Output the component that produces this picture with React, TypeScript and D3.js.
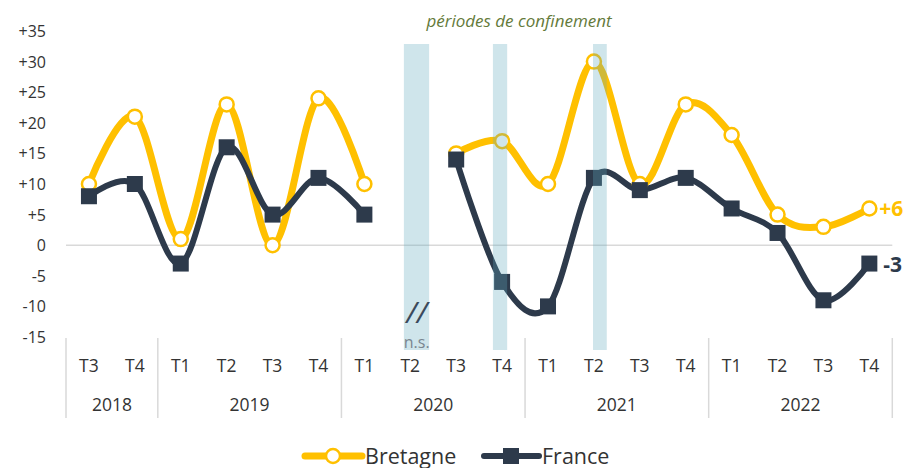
import React from "react";
import * as d3 from "d3";

const years = ["2018", "2019", "2020", "2021", "2022"];
const quarters = ["T3", "T4", "T1", "T2", "T3", "T4", "T1", "T2", "T3", "T4", "T1", "T2", "T3", "T4", "T1", "T2", "T3", "T4"];
const yearOf = ["2018", "2018", "2019", "2019", "2019", "2019", "2020", "2020", "2020", "2020", "2021", "2021", "2021", "2021", "2022", "2022", "2022", "2022"];
const bretagne: (number | null)[] = [10, 21, 1, 23, 0, 24, 10, null, 15, 17, 10, 30, 10, 23, 18, 5, 3, 6];
const france: (number | null)[] = [8, 10, -3, 16, 5, 11, 5, null, 14, -6, -10, 11, 9, 11, 6, 2, -9, -3];
const yTicks = [35, 30, 25, 20, 15, 10, 5, 0, -5, -10, -15];
// confinement periods, in quarter-index units
const confinements: [number, number][] = [
  [7.36, 7.91],
  [9.3, 9.61],
  [11.48, 11.78],
];

const W = 908;
const H = 468;
const YELLOW = "#FFC000";
const NAVY = "#2D3A4B";
const FONT = "'Open Sans', Lato, sans-serif";
const TXT = "#333";

export default function App() {
  const x0 = 66;
  const x1 = 892.3;
  const step = (x1 - x0) / quarters.length;
  const xc = (i: number) => x0 + (i + 0.5) * step;
  const xs = (v: number) => x0 + v * step;
  const y = d3.scaleLinear().domain([-15, 35]).range([337, 31]);

  const line = d3
    .line<number | null>()
    .defined((d) => d !== null)
    .x((_, i) => xc(i))
    .y((d) => y(d as number))
    .curve(d3.curveCardinal.tension(0));

  const yearGroups = years.map((yr) => {
    const idx = yearOf.map((v, i) => (v === yr ? i : -1)).filter((i) => i >= 0);
    return { yr, first: idx[0], last: idx[idx.length - 1] };
  });

  return (
    <svg width={W} height={H} style={{ position: "absolute", left: 0, top: 0, background: "#fff" }}>
      {/* zero line */}
      <line x1={x0} x2={x1} y1={y(0)} y2={y(0)} stroke="#d9d9d9" strokeWidth={1.5} />
      {/* y ticks */}
      {yTicks.map((t) => (
        <text key={t} x={46} y={y(t)} textAnchor="end" dominantBaseline="central" fontFamily={FONT} fontSize={16} fill={TXT}>
          {t > 0 ? `+${t}` : `${t}`}
        </text>
      ))}
      {/* category separators */}
      {[...yearGroups.map((g) => xs(g.first)), x1].map((xx, i) => (
        <line key={i} x1={xx} x2={xx} y1={338} y2={418} stroke="#d9d9d9" strokeWidth={1.5} />
      ))}
      {quarters.map((q, i) => (
        <text key={i} x={xc(i)} y={365} textAnchor="middle" dominantBaseline="central" fontFamily={FONT} fontSize={17.5} fill={TXT}>
          {q}
        </text>
      ))}
      {yearGroups.map((g) => (
        <text key={g.yr} x={(xs(g.first) + xs(g.last + 1)) / 2} y={404} textAnchor="middle" dominantBaseline="central" fontFamily={FONT} fontSize={17.5} fill={TXT}>
          {g.yr}
        </text>
      ))}
      {/* lines */}
      <path d={line(bretagne) || ""} fill="none" stroke={YELLOW} strokeWidth={7} strokeLinejoin="round" strokeLinecap="round" />
      <path d={line(france) || ""} fill="none" stroke={NAVY} strokeWidth={6} strokeLinejoin="round" strokeLinecap="round" />
      {bretagne.map((v, i) =>
        v === null ? null : <circle key={i} cx={xc(i)} cy={y(v)} r={7} fill="#fff" stroke={YELLOW} strokeWidth={2.5} />
      )}
      {france.map((v, i) =>
        v === null ? null : <rect key={i} x={xc(i) - 8} y={y(v) - 8} width={16} height={16} fill={NAVY} />
      )}
      {/* confinement bands on top */}
      {confinements.map(([a, b], i) => (
        <rect key={i} x={xs(a)} y={44} width={xs(b) - xs(a)} height={306} fill="rgb(95,168,188)" opacity={0.3} />
      ))}
      <text x={xs(7.64)} y={311} textAnchor="middle" dominantBaseline="central" fontFamily={FONT} fontSize={30} fontStyle="italic" fill="#3b4a5c">
        //
      </text>
      <text x={xs(7.64)} y={342} textAnchor="middle" dominantBaseline="central" fontFamily={FONT} fontSize={16} fill="#7a8590">
        n.s.
      </text>
      <text x={519} y={20} textAnchor="middle" dominantBaseline="central" fontFamily={FONT} fontSize={17} fontStyle="italic" fill="#647a3a">
        périodes de confinement
      </text>
      {/* end labels */}
      <text x={xc(17) + 10} y={y(bretagne[17] as number)} dominantBaseline="central" fontFamily={FONT} fontSize={21} fontWeight="bold" fill={YELLOW}>
        +6
      </text>
      <text x={xc(17) + 14} y={y(france[17] as number)} dominantBaseline="central" fontFamily={FONT} fontSize={21} fontWeight="bold" fill={NAVY}>
        -3
      </text>
      {/* legend */}
      <g>
        <line x1={305} x2={362} y1={456} y2={456} stroke={YELLOW} strokeWidth={7} strokeLinecap="round" />
        <circle cx={333} cy={456} r={7} fill="#fff" stroke={YELLOW} strokeWidth={2.5} />
        <text x={365} y={455} dominantBaseline="central" fontFamily={FONT} fontSize={21.5} fill={TXT}>
          Bretagne
        </text>
        <line x1={484} x2={539} y1={456} y2={456} stroke={NAVY} strokeWidth={6} strokeLinecap="round" />
        <rect x={503} y={448} width={16} height={16} fill={NAVY} />
        <text x={542} y={455} dominantBaseline="central" fontFamily={FONT} fontSize={21.5} fill={TXT}>
          France
        </text>
      </g>
    </svg>
  );
}
